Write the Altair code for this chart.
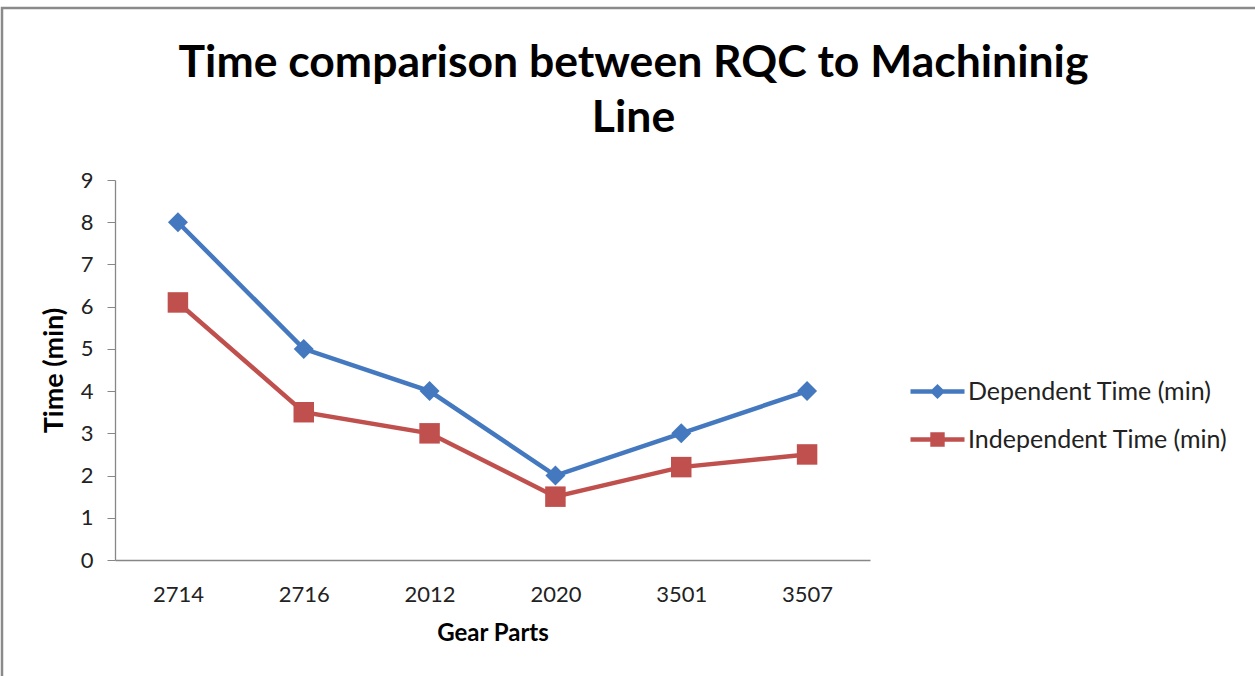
import altair as alt
import pandas as pd

categories = ["2714", "2716", "2012", "2020", "3501", "3507"]
dependent = [8, 5, 4, 2, 3, 4]
independent = [6.1, 3.5, 3, 1.5, 2.2, 2.5]
series_names = ["Dependent Time (min)", "Independent Time (min)"]
colors = ["#4479C0", "#C0504D"]

rows = []
for c, v in zip(categories, dependent):
    rows.append({"part": c, "time": v, "series": series_names[0]})
for c, v in zip(categories, independent):
    rows.append({"part": c, "time": v, "series": series_names[1]})
df = pd.DataFrame(rows)

FONT = "Lato"
PAD_L, PAD_T, W, H = 115, 180, 755, 380

dia_path = ("M-2.25,-0.18 L-0.45,-0.18 L0,-0.63 L0.45,-0.18 L2.25,-0.18 "
            "L2.25,0.18 L0.45,0.18 L0,0.63 L-0.45,0.18 L-2.25,0.18 Z")
sq_path = ("M-2.25,-0.18 L-0.6,-0.18 L-0.6,-0.6 L0.6,-0.6 L0.6,-0.18 L2.25,-0.18 "
           "L2.25,0.18 L0.6,0.18 L0.6,0.6 L-0.6,0.6 L-0.6,0.18 L-2.25,0.18 Z")
legend_paths = [dia_path, sq_path]
legend_y = [199, 247]

x_enc = alt.X("part:N", sort=categories,
              scale=alt.Scale(type="point", padding=0.5),
              axis=alt.Axis(title="Gear Parts", labelAngle=0, ticks=False,
                            labelPadding=24, titlePadding=16, titleFontSize=24))
y_enc = alt.Y("time:Q", scale=alt.Scale(domain=[0, 9], nice=False),
              axis=alt.Axis(title="Time (min)", values=list(range(10)),
                            grid=False, tickSize=8, labelPadding=14,
                            titlePadding=12, titleFontSize=27))
color_scale = alt.Scale(domain=series_names, range=colors)

lines = alt.Chart(df).mark_line(strokeWidth=4.5).encode(
    x=x_enc, y=y_enc,
    color=alt.Color("series:N", scale=color_scale, legend=None),
    detail="series:N",
)

points = alt.Chart(df).mark_point(filled=True, opacity=1, strokeWidth=0).encode(
    x=x_enc, y=y_enc,
    color=alt.Color("series:N", scale=color_scale, legend=None),
    shape=alt.Shape("series:N", scale=alt.Scale(domain=series_names, range=["diamond", "square"]), legend=None),
    size=alt.Size("series:N", scale=alt.Scale(domain=series_names, range=[400, 420]), legend=None),
)

legend_layers = []
for name, col, path, ly in zip(series_names, colors, legend_paths, legend_y):
    lg = alt.Legend(
        title=None, orient="none", legendX=810, legendY=ly,
        symbolSize=576, symbolStrokeWidth=0, symbolOpacity=1,
        symbolFillColor=col, labelOffset=18,
        labelFontSize=25, labelFont=FONT, labelColor="#222222", labelLimit=400,
    )
    legend_layers.append(
        alt.Chart(df).transform_filter("false").mark_point(
            filled=True, opacity=1, strokeWidth=0, size=576, color=col
        ).encode(
            x=x_enc, y=y_enc,
            shape=alt.Shape("series:N", scale=alt.Scale(domain=[name], range=[path]), legend=lg),
        )
    )

frame = alt.Chart(pd.DataFrame({"k": [0]})).mark_rect(
    fill=None, stroke="#8a8a8a", strokeWidth=2.5
).encode(
    x=alt.value(2 - PAD_L), x2=alt.value(1300 - PAD_L),
    y=alt.value(8 - PAD_T), y2=alt.value(720 - PAD_T)
)

chart = alt.layer(frame, lines, points, *legend_layers).resolve_scale(
    shape="independent", size="independent"
).properties(
    width=W, height=H,
    padding={"left": PAD_L, "top": PAD_T, "right": 1255 - PAD_L - W, "bottom": 676 - PAD_T - H},
    autosize=alt.AutoSizeParams(type="none"),
    background="white",
    title=alt.TitleParams(
        text=["Time comparison between RQC to Machininig", "Line"],
        font=FONT, fontSize=44.5, fontWeight="bold", color="#000000",
        anchor="middle", frame="group", dx=141, dy=135, offset=0, lineHeight=55,
    ),
).configure_view(stroke=None).configure_axis(
    labelFont=FONT, titleFont=FONT, labelFontSize=22,
    labelColor="#222222", titleColor="#000000", titleFontWeight="bold",
    domainColor="#878787", tickColor="#878787", domainWidth=1.3,
)

chart.save("out.html", embed_options={"renderer": "svg", "actions": False})
